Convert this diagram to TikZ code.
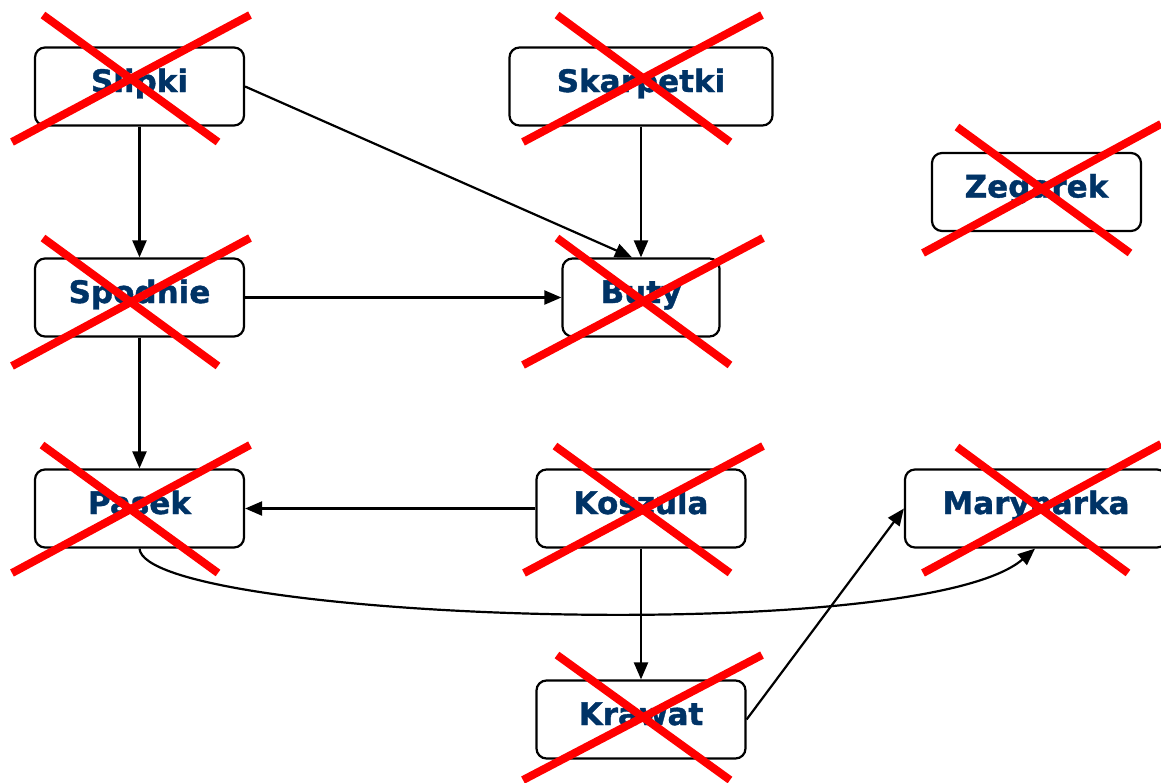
\documentclass[tikz,border=0pt]{standalone}
\usepackage{fontspec}
\setmainfont{DejaVu Sans}[BoldFeatures={FakeBold=1.2}]
\usetikzlibrary{arrows.meta}
\definecolor{txtblue}{HTML}{003366}
\definecolor{xred}{HTML}{FF0000}
\begin{document}
\begin{tikzpicture}[x=1pt,y=-1pt,
 box/.style={draw=black,line width=2.2pt,rounded corners=10pt,minimum height=78pt,inner sep=0pt,
   text height=23pt,text depth=12pt,font=\fontsize{31}{37}\selectfont\bfseries,text=txtblue,fill=white},
 conn/.style={line width=2.2pt,-{Triangle[length=17pt,width=14pt]}},
 cross/.style={draw=xred,line width=8pt}]
\useasboundingbox (0,0) rectangle (1161,782);

\node[box,minimum width=209pt] (slipki) at (139.5,86.5) {Slipki};
\node[box,minimum width=263pt] (skarpetki) at (641,86.5) {Skarpetki};
\node[box,minimum width=209pt] (zegarek) at (1036.5,192) {Zegarek};
\node[box,minimum width=209pt] (spodnie) at (139.5,297.5) {Spodnie};
\node[box,minimum width=157pt] (buty) at (641,297.5) {Buty};
\node[box,minimum width=209pt] (pasek) at (139.5,508.5) {Pasek};
\node[box,minimum width=209pt] (koszula) at (641,508.5) {Koszula};
\node[box,minimum width=262pt] (marynarka) at (1036,508.5) {Marynarka};
\node[box,minimum width=209pt] (krawat) at (641,719.5) {Krawat};

\draw[conn] (slipki) -- (spodnie);
\draw[conn] (slipki.east) -- ([xshift=-9pt]buty.north);
\draw[conn] (skarpetki) -- (buty);
\draw[conn] (spodnie) -- (buty);
\draw[conn] (spodnie) -- (pasek);
\draw[conn] (koszula) -- (pasek);
\draw[conn] (koszula) -- (krawat);
\draw[conn] (krawat.east) -- (marynarka.west);
\draw[conn] (pasek.south) .. controls (145,620) and (920,648) .. ([xshift=-1pt]marynarka.south);

% red crosses
\draw[cross] (43,15) -- (218,142);
\draw[cross] (250,15) -- (12,142);
\draw[cross] (557,15) -- (730,142);
\draw[cross] (762,15) -- (523,142);
\draw[cross] (957,127) -- (1130,253);
\draw[cross] (1161,124) -- (923,253);
\draw[cross] (43,238) -- (218,366);
\draw[cross] (250,238) -- (12,366);
\draw[cross] (557,238) -- (730,365);
\draw[cross] (763,238) -- (523,365);
\draw[cross] (42,445) -- (218,573);
\draw[cross] (250,445) -- (12,573);
\draw[cross] (555,446) -- (730,573);
\draw[cross] (763,446) -- (524,573);
\draw[cross] (957,447) -- (1128,573);
\draw[cross] (1161,444) -- (923,573);
\draw[cross] (557,655) -- (730,780);
\draw[cross] (762,655) -- (523,780);
\end{tikzpicture}
\end{document}
